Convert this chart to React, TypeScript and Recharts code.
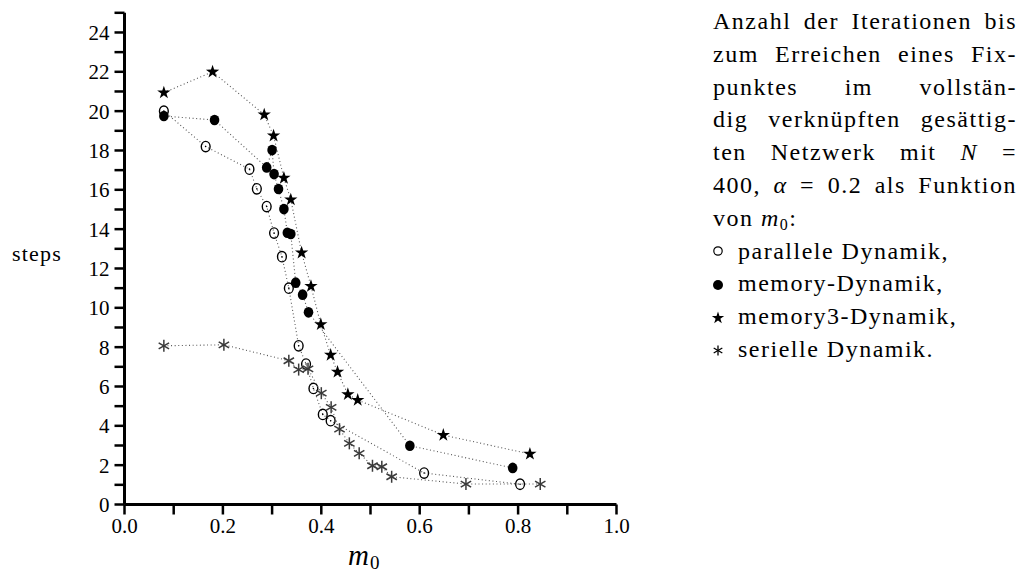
import React from 'react';
import { ScatterChart, Scatter, XAxis, YAxis } from 'recharts';

// ---- data ----
const parallelM0 = [0.08, 0.165, 0.254, 0.269, 0.289, 0.304, 0.32, 0.334, 0.354, 0.369, 0.384, 0.403, 0.419, 0.609, 0.804];
const parallelSteps = [20.0, 18.2, 17.05, 16.05, 15.15, 13.8, 12.6, 11.0, 8.07, 7.14, 5.9, 4.58, 4.26, 1.6, 1.03];

const memoryM0 = [0.08, 0.183, 0.289, 0.3, 0.304, 0.313, 0.324, 0.331, 0.338, 0.348, 0.362, 0.374, 0.58, 0.789];
const memorySteps = [19.75, 19.55, 17.14, 18.02, 16.8, 16.04, 15.02, 13.82, 13.75, 11.28, 10.67, 9.77, 2.99, 1.86];

const memory3M0 = [0.08, 0.179, 0.284, 0.303, 0.324, 0.338, 0.36, 0.379, 0.399, 0.419, 0.433, 0.454, 0.474, 0.648, 0.824];
const memory3Steps = [20.94, 22.0, 19.82, 18.75, 16.6, 15.5, 12.8, 11.1, 9.16, 7.6, 6.74, 5.6, 5.31, 3.53, 2.57];

const serialM0 = [0.08, 0.202, 0.334, 0.354, 0.373, 0.4, 0.42, 0.437, 0.457, 0.477, 0.504, 0.523, 0.543, 0.694, 0.845];
const serialSteps = [8.07, 8.12, 7.31, 6.86, 6.9, 5.66, 4.94, 3.83, 3.11, 2.6, 1.97, 1.92, 1.41, 1.04, 1.04];

const xTicks = [0, 0.1, 0.2, 0.3, 0.4, 0.5, 0.6, 0.7, 0.8, 0.9, 1.0];
const yTicks = [0, 1, 2, 3, 4, 5, 6, 7, 8, 9, 10, 11, 12, 13, 14, 15, 16, 17, 18, 19, 20, 21, 22, 23, 24, 25];

const toPoints = (xs: number[], ys: number[]) => xs.map((x, i) => ({ x, y: ys[i] }));
const parallelData = toPoints(parallelM0, parallelSteps);
const memoryData = toPoints(memoryM0, memorySteps);
const memory3Data = toPoints(memory3M0, memory3Steps);
const serialData = toPoints(serialM0, serialSteps);

const FONT = '"Liberation Serif", "Times New Roman", serif';

function starPath(cx: number, cy: number, R: number, r: number) {
  let d = '';
  for (let i = 0; i < 10; i++) {
    const a = -Math.PI / 2 + (i * Math.PI) / 5;
    const rad = i % 2 === 0 ? R : r;
    d += (i ? 'L' : 'M') + (cx + rad * Math.cos(a)).toFixed(2) + ',' + (cy + rad * Math.sin(a)).toFixed(2);
  }
  return d + 'Z';
}

const OpenCircle = (p: any) => (
  <g>
    <ellipse cx={p.cx} cy={p.cy} rx={4.4} ry={5.2} fill="none" stroke="#000" strokeWidth={1.4} />
    <circle cx={p.cx} cy={p.cy} r={0.8} fill="#000" />
  </g>
);
const FilledCircle = (p: any) => <ellipse cx={p.cx} cy={p.cy} rx={4.8} ry={5.3} fill="#000" />;
const StarShape = (p: any) => <path d={starPath(p.cx, p.cy, 7, 2.7)} fill="#000" />;
const AsteriskShape = (p: any) => {
  const r = 6;
  const dx = r * Math.cos(Math.PI / 6);
  const dy = r * Math.sin(Math.PI / 6);
  return (
    <g stroke="#3a3a3a" strokeWidth={1.5}>
      <line x1={p.cx} y1={p.cy - r} x2={p.cx} y2={p.cy + r} />
      <line x1={p.cx - dx} y1={p.cy - dy} x2={p.cx + dx} y2={p.cy + dy} />
      <line x1={p.cx - dx} y1={p.cy + dy} x2={p.cx + dx} y2={p.cy - dy} />
    </g>
  );
};

const dotted = { stroke: '#555', strokeWidth: 1.1, strokeDasharray: '1 2.6', fill: 'none' };

const xFmt = (v: number) => (Math.round(v * 10) % 2 === 0 ? v.toFixed(1) : '');
const yFmt = (v: number) => (v % 2 === 0 && v <= 24 ? String(v) : '');

const tickStyle = { fill: '#000', fontSize: 21, fontFamily: FONT };

const LH = 32.8;
const lineStyle: React.CSSProperties = { height: LH, lineHeight: `${LH}px`, textAlign: 'justify', textAlignLast: 'justify' as any, whiteSpace: 'normal' };
const leftLine: React.CSSProperties = { height: LH, lineHeight: `${LH}px`, textAlign: 'left', whiteSpace: 'nowrap' };

export default function App() {
  return (
    <div style={{ position: 'relative', width: 1021, height: 575, background: '#fff', fontFamily: FONT, overflow: 'hidden' }}>
      <style>{`body{margin:0;}`}</style>
      <ScatterChart width={700} height={575} margin={{ top: 12.8, right: 83.5, left: 64.5, bottom: 0 }}>
        <XAxis
          type="number"
          dataKey="x"
          domain={[0, 1]}
          ticks={xTicks}
          interval={0}
          tickFormatter={xFmt}
          height={70.5}
          axisLine={{ stroke: '#000', strokeWidth: 3 }}
          tickLine={{ stroke: '#000', strokeWidth: 2.5 }}
          tickSize={10}
          tickMargin={4}
          tick={tickStyle}
        />
        <YAxis
          type="number"
          dataKey="y"
          domain={[0, 25]}
          ticks={yTicks}
          interval={0}
          tickFormatter={yFmt}
          width={60}
          axisLine={{ stroke: '#000', strokeWidth: 3 }}
          tickLine={{ stroke: '#000', strokeWidth: 2.5 }}
          tickSize={10}
          tickMargin={5}
          tick={tickStyle}
        />
        <Scatter data={parallelData} shape={OpenCircle} line={dotted} lineType="joint" isAnimationActive={false} />
        <Scatter data={memoryData} shape={FilledCircle} line={dotted} lineType="joint" isAnimationActive={false} />
        <Scatter data={memory3Data} shape={StarShape} line={dotted} lineType="joint" isAnimationActive={false} />
        <Scatter data={serialData} shape={AsteriskShape} line={dotted} lineType="joint" isAnimationActive={false} />
      </ScatterChart>

      <svg width={1021} height={575} style={{ position: 'absolute', left: 0, top: 0, pointerEvents: 'none' }}>
        <text x={12} y={261} fontSize={22} fontFamily={FONT} letterSpacing={1.2} fill="#000">steps</text>
        <text x={348} y={565} fontFamily={FONT} fill="#000">
          <tspan fontStyle="italic" fontSize={29}>m</tspan>
          <tspan fontSize={19} dy={4} dx={1}>0</tspan>
        </text>
        {/* legend symbols */}
        <circle cx={718} cy={251} r={4.2} fill="none" stroke="#000" strokeWidth={1.2} />
        <circle cx={718} cy={285} r={5} fill="#000" />
        <path d={starPath(718, 318, 6.5, 2.5)} fill="#000" />
        <g stroke="#000" strokeWidth={1.3}>
          <line x1={718} y1={345.5} x2={718} y2={355.5} />
          <line x1={713.7} y1={348} x2={722.3} y2={353} />
          <line x1={713.7} y1={353} x2={722.3} y2={348} />
        </g>
      </svg>

      <div style={{ position: 'absolute', left: 713, top: 5, width: 304, fontSize: 24, letterSpacing: 1.5, color: '#000' }}>
        <div style={lineStyle}>Anzahl der Iterationen bis</div>
        <div style={lineStyle}>zum Erreichen eines Fix-</div>
        <div style={lineStyle}>punktes im vollstän-</div>
        <div style={lineStyle}>dig verknüpften gesättig-</div>
        <div style={lineStyle}>ten Netzwerk mit <i>N</i> =</div>
        <div style={lineStyle}>400, <i>α</i> = 0.2 als Funktion</div>
        <div style={leftLine}>von <i>m</i><sub style={{ fontSize: 16, verticalAlign: '-4px', lineHeight: 0 }}>0</sub>:</div>
        <div style={{ ...leftLine, paddingLeft: 25 }}>parallele Dynamik,</div>
        <div style={{ ...leftLine, paddingLeft: 25 }}>memory-Dynamik,</div>
        <div style={{ ...leftLine, paddingLeft: 25 }}>memory3-Dynamik,</div>
        <div style={{ ...leftLine, paddingLeft: 25 }}>serielle Dynamik.</div>
      </div>
    </div>
  );
}
